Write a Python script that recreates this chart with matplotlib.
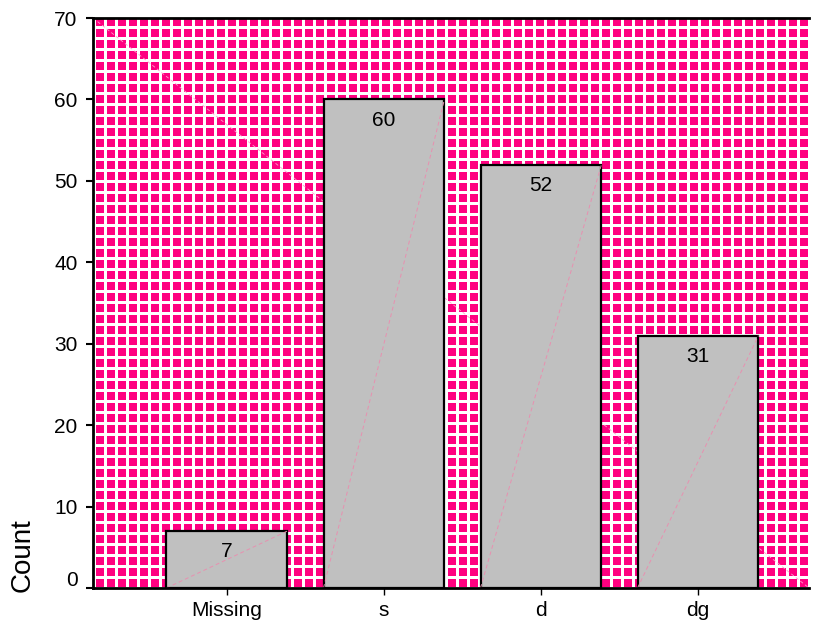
import matplotlib
matplotlib.use("Agg")
import matplotlib.pyplot as plt
import matplotlib.transforms as mtransforms
import numpy as np

plt.rcParams['font.family'] = ['Liberation Sans', 'DejaVu Sans']

categories = ["Missing", "s", "d", "dg"]
counts = [7, 60, 52, 31]
yticks = [0, 10, 20, 30, 40, 50, 60, 70]

W, H = 823, 623
fig = plt.figure(figsize=(W / 100, H / 100), dpi=100)
L, R, T, B = 93, 809, 18, 588
ax = fig.add_axes([L / W, (H - B) / H, (R - L) / W, (B - T) / H])

# decorative pink/white grid background, one array cell per pixel
aw, ah = R - L, B - T
rows = np.arange(ah)[:, None]
cols = np.arange(aw)[None, :]
white = ((cols % 11) >= 0) & ((cols % 11) <= 2) | ((rows % 11) >= 8)
img = np.empty((ah, aw, 3))
img[:] = np.array([255, 0, 128]) / 255
img[white] = 1.0
ax.imshow(img, extent=[0, 1, 0, 1], transform=ax.transAxes, aspect="auto",
          interpolation="nearest", zorder=0.5)
ax.plot([0, 1], [1, 0], color="#ffa0cc", lw=0.6, ls=(0, (4, 3)), zorder=0.6,
        transform=ax.transAxes)

x = np.arange(len(categories))
width = 0.77
ax.bar(x, counts, width=width, color="#c0c0c0", edgecolor="black",
       linewidth=1.6, zorder=2)
for xi, v in zip(x, counts):
    ax.plot([xi - width / 2, xi + width / 2], [0, v], color="#e890b0", lw=0.7,
            ls=(0, (4, 3)), zorder=2.5)
    ax.annotate(str(v), (xi, v), xytext=(0, -15), textcoords="offset points",
                ha="center", va="center", fontsize=15, zorder=3)

ax.set_xlim(-0.853, 3.707)
ax.set_ylim(0, 70)
ax.set_xticks(x)
ax.set_xticklabels(categories, fontsize=15)
ax.set_yticks(yticks)
ax.set_yticklabels([str(t) for t in yticks], fontsize=15)
ax.tick_params(axis="y", length=5, width=1.5, pad=6)
ax.tick_params(axis="x", length=5, width=1.0, pad=4)

lbl0 = ax.get_yticklabels()[0]
lbl0.set_transform(lbl0.get_transform() + mtransforms.ScaledTranslation(0, 10 / 100, fig.dpi_scale_trans))

for s in ["left", "top", "bottom"]:
    ax.spines[s].set_linewidth(2)
    ax.spines[s].set_zorder(4)
ax.spines["right"].set_visible(False)

fig.text(23 / W, 1 - 555 / H, "Count", rotation=90, ha="center", va="center", fontsize=20)

fig.savefig("out.png", dpi=100)
